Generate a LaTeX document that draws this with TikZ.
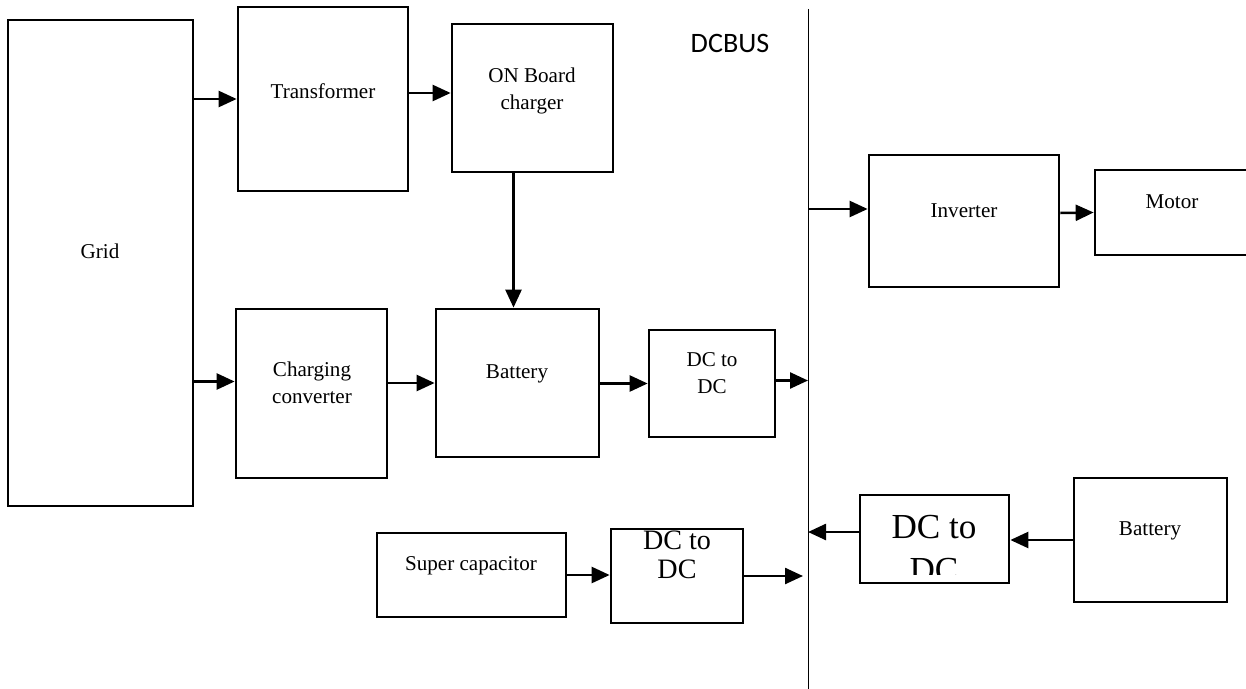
\documentclass[tikz,border=0pt]{standalone}
\usepackage{fontspec}
\setmainfont{Liberation Serif}
\newfontfamily\busfont{Carlito}
\usetikzlibrary{arrows.meta, positioning}

\begin{document}
\begin{tikzpicture}[x=0.2mm, y=-0.2mm,
	box/.style={draw, line width=0.55mm, inner sep=0pt},
	arrow/.style={-{Triangle[length=3.6mm, width=3.2mm]}, line width=0.5mm},
	lbl/.style={font=\fontsize{12}{15.4}\selectfont, align=center, inner sep=0pt},
	biglbl/.style={font=\fontsize{16}{16.5}\selectfont, align=center, inner sep=0pt},
	hugelbl/.style={font=\fontsize{20}{24.5}\selectfont, align=center, inner sep=0pt}
]
	\useasboundingbox (0,0) rectangle (1246,688);
	\clip (0,0) rectangle (1246,688);

	% boxes
	\node[box, minimum width=37mm, minimum height=97.2mm] (grid) at (100.5,263) {};
	\node[box, minimum width=34mm, minimum height=36.8mm] (transformer) at (323,99) {};
	\node[box, minimum width=32.2mm, minimum height=29.6mm] (onboard) at (532.5,98) {};
	\node[box, minimum width=30.2mm, minimum height=33.8mm] (charging) at (311.5,393.5) {};
	\node[box, minimum width=32.6mm, minimum height=29.6mm] (battery) at (517.5,383) {};
	\node[box, minimum width=25.2mm, minimum height=21.4mm] (dcmid) at (712,383.5) {};
	\node[box, minimum width=37.8mm, minimum height=16.8mm] (supercap) at (471.5,575) {};
	\node[box, minimum width=26.4mm, minimum height=18.8mm] (dcbot) at (677,576) {};
	\node[box, minimum width=29.8mm, minimum height=17.6mm] (dcright) at (934.5,539) {};
	\node[box, minimum width=30.6mm, minimum height=24.8mm] (batright) at (1150.5,540) {};
	\node[box, minimum width=38mm, minimum height=26.4mm] (inverter) at (964,221) {};
	\node[box, minimum width=40mm, minimum height=17mm] (motor) at (1195,212.5) {};

	% DC bus
	\coordinate (bustop) at (808,9);
	\coordinate (busbot) at (808,690);
	\draw[line width=0.2mm] (bustop) -- (busbot);
	\node[font=\busfont\fontsize{16}{19}\selectfont, inner sep=0pt] (dcbus) at (730,43) {DCBUS};

	% texts
	\node[lbl] (gridtxt) at (100,251) {Grid};
	\node[lbl] (transtxt) at (323,91) {Transformer};
	\node[lbl] (onboardtxt) at (532,91) {ON Board\\charger};
	\node[lbl] (chargingtxt) at (312,382.5) {Charging\\converter};
	\node[lbl] (batterytxt) at (517,374) {Battery};
	\node[lbl] (dcmidtxt) at (712,373) {DC to\\DC};
	\node[lbl] (supercaptxt) at (471,566) {Super capacitor};
	\node[biglbl] (dcbottxt) at (677,555) {DC to\\DC};
	\node[lbl] (batrighttxt) at (1150,530.5) {Battery};
	\node[lbl] (invertertxt) at (964,211) {Inverter};
	\node[lbl] (motortxt) at (1172,202) {Motor};
	\begin{scope}
		\clip (dcright.north west) rectangle ([yshift=2mm]dcright.south east);
		\node[hugelbl] (dcrighttxt) at (934,548.5) {DC to\\DC};
	\end{scope}

	% connectors
	\coordinate (chgin) at ([yshift=2.4mm]charging.west);
	\coordinate (onin) at ([yshift=1mm]onboard.west);
	\coordinate (invin) at ([yshift=2.4mm]inverter.west);
	\coordinate (invout) at ([yshift=1.6mm]inverter.east);
	\coordinate (dcrout) at ([yshift=1.4mm]dcright.west);
	\draw[arrow] (grid.east |- transformer.west) -- (transformer.west);
	\draw[arrow] (transformer.east |- onin) -- (onin);
	\draw[arrow] ([xshift=-3.8mm]onboard.south) -- ([xshift=-3.8mm]onboard.south |- battery.north);
	\draw[arrow] (grid.east |- chgin) -- (chgin);
	\draw[arrow] (charging.east |- battery.west) -- (battery.west);
	\draw[arrow] (battery.east |- dcmid.west) -- (dcmid.west);
	\draw[arrow] ([yshift=0.6mm]dcmid.east) -- ([yshift=0.6mm]dcmid.east -| bustop);
	\draw[arrow] (bustop |- invin) -- (invin);
	\draw[arrow] (invout) -- (motor.west);
	\draw[arrow] (batright.west) -- (batright.west -| dcright.east);
	\draw[arrow] (dcrout) -- (dcrout -| bustop);
	\draw[arrow] (supercap.east) -- (supercap.east -| dcbot.west);
	\draw[arrow, shorten >=1mm] (dcbot.east) -- (dcbot.east -| bustop);
\end{tikzpicture}
\end{document}
